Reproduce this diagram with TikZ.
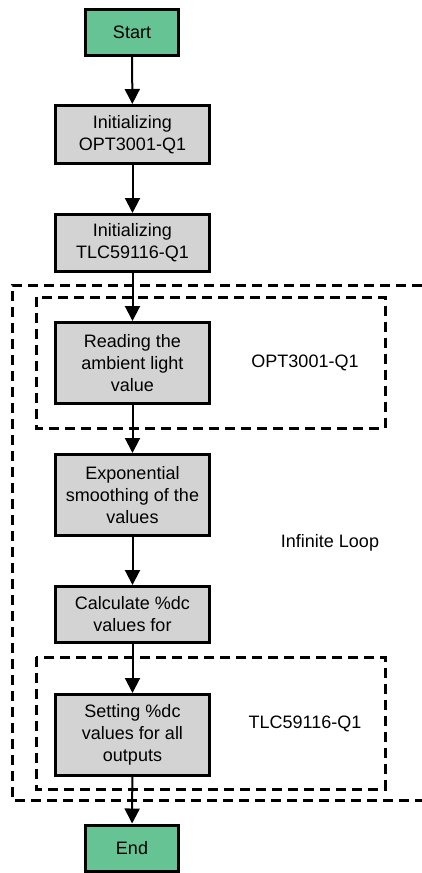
\documentclass[tikz,border=0pt]{standalone}
\usepackage{fontspec}
\setmainfont{Liberation Sans}
\usepackage{tikz}
\definecolor{startend}{RGB}{102,195,148}
\definecolor{boxgray}{RGB}{211,211,211}
\usetikzlibrary{arrows.meta,positioning}
\tikzset{%
  process/.style={draw, rectangle, line width=3pt, fill=boxgray, align=center,
    minimum width=154pt, font=\fontsize{18}{22}\selectfont},% gray step box
  terminal/.style={process, fill=startend, minimum width=93pt, minimum height=46pt},% start / end
  group/.style={line width=3pt, dash pattern=on 10pt off 6pt},% dashed frame
  flow/.style={line width=2pt, -{Triangle[width=15pt,length=15pt]}},% connector
  grouplabel/.style={font=\fontsize{18}{22}\selectfont}% frame caption
}
\begin{document}
\begin{tikzpicture}[x=1pt, y=-1pt]
\useasboundingbox (0,0) rectangle (422,873);

\draw[group] (422,285) -- (12,285) -- (12,800) -- (422,800);
\draw[group] (36,297) rectangle (385,428);
\draw[group] (36,657) rectangle (385,789);

\node[terminal] (start) at (132, 32.5) {Start};
\node[process, minimum height=58pt] (initopt) at (132.5, 134.5) {Initializing\\OPT3001-Q1};
\node[process, minimum height=57pt] (inittlc) at (132.5, 243) {Initializing\\TLC59116-Q1};
\node[process, minimum height=81pt] (readlux) at (132.5, 363) {Reading the\\ambient light\\value};
\node[process, minimum height=81pt] (smooth) at (132.5, 495) {Exponential\\smoothing of the\\values};
\node[process, minimum height=56pt] (calcdc) at (132.5, 614.5) {Calculate \%dc\\values for};
\node[process, minimum height=81pt] (setdc) at (132.5, 735) {Setting \%dc\\values for all\\outputs};
\node[terminal] (stop) at (132, 848) {End};

\node[grouplabel] (optlabel) at (305, 363) {OPT3001-Q1};
\node[grouplabel] (looplabel) at (330, 543) {Infinite Loop};
\node[grouplabel] (tlclabel) at (305, 724) {TLC59116-Q1};

\draw (start) edge[flow] (initopt);
\draw (initopt) edge[flow] (inittlc);
\draw (inittlc) edge[flow] (readlux);
\draw (readlux) edge[flow] (smooth);
\draw (smooth) edge[flow] (calcdc);
\draw (calcdc) edge[flow] (setdc);
\draw (setdc) edge[flow] (stop);

\end{tikzpicture}
\end{document}
